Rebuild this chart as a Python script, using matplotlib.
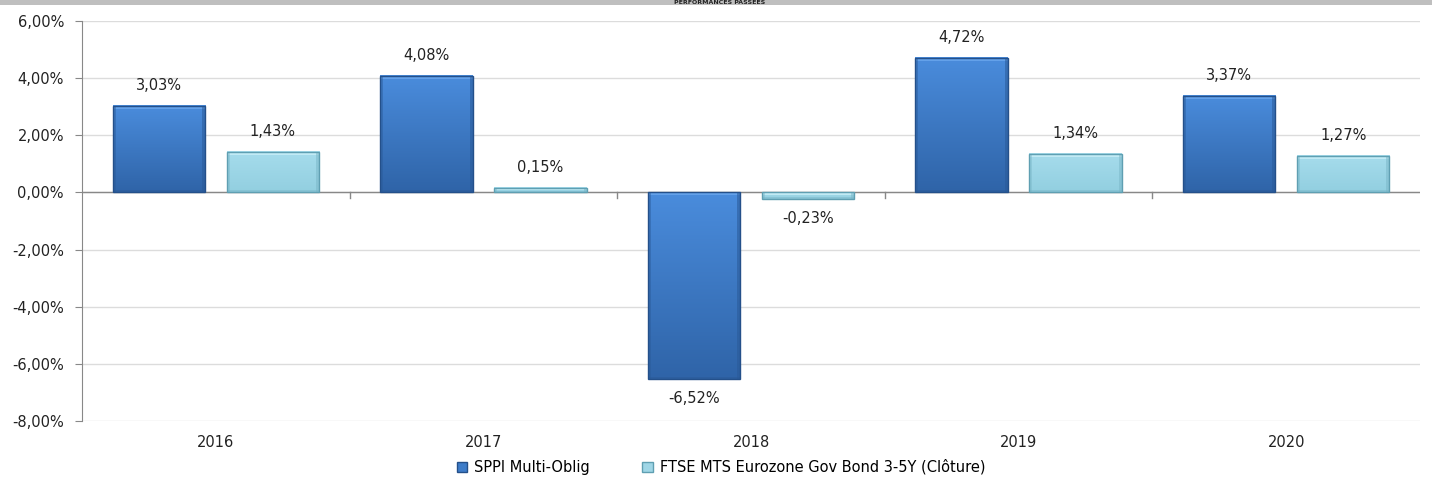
import matplotlib
matplotlib.use("Agg")
import matplotlib.pyplot as plt
import numpy as np
from matplotlib.patches import Rectangle
from matplotlib.colors import LinearSegmentedColormap

years = ["2016", "2017", "2018", "2019", "2020"]
sppi = [3.03, 4.08, -6.52, 4.72, 3.37]
ftse = [1.43, 0.15, -0.23, 1.34, 1.27]
series_names = ["SPPI Multi-Oblig", "FTSE MTS Eurozone Gov Bond 3-5Y (Clôture)"]
yticks = [-8, -6, -4, -2, 0, 2, 4, 6]

def fmt(v):
    return f"{v:.2f}".replace(".", ",") + "%"

W, H = 1432, 486
plt.rcParams['font.family'] = ['DejaVu Sans']
fig = plt.figure(figsize=(W / 100, H / 100), dpi=100)

# top grey band with title
band = fig.add_axes([0, 1 - 5 / H, 1, 5 / H])
band.set_facecolor("#bfbfbf")
band.set_xticks([]); band.set_yticks([])
for s in band.spines.values():
    s.set_visible(False)
fig.text(720 / W, 1 - 0.5 / H, "PERFORMANCES PASSEES", ha="center", va="top",
         fontsize=4.5, fontweight="bold", color="#222222")

ax = fig.add_axes([82 / W, 1 - 421 / H, (1420 - 82) / W, (421 - 21) / H])

x = np.arange(len(years))
bw = 0.345
off = 0.213
PX_X = 1.0 / 267.6
PX_Y = 14.0 / 400

styles = [
    dict(top="#4a8cdc", bot="#2f64a8", edge="#24508a", hi="#6aa6ec", side="#2a5a98", legend="#3d7cc9"),
    dict(top="#a6dcec", bot="#92cfe0", edge="#5f9fb2", hi="#c8eef7", side="#7bb8c9", legend="#9fd6e6"),
]

def draw_bar(xc, v, st):
    x0 = xc - bw / 2
    yb, yt = min(0, v), max(0, v)
    grad = np.linspace(1, 0, 64).reshape(-1, 1)
    cmap = LinearSegmentedColormap.from_list("g", [st["bot"], st["top"]])
    ax.imshow(grad, extent=[x0, x0 + bw, yb, yt], aspect="auto", cmap=cmap,
              vmin=0, vmax=1, zorder=3, interpolation="bilinear")
    hh = yt - yb
    bev = min(3 * PX_Y, hh * 0.35)
    sw = 3 * PX_X
    ax.add_patch(Rectangle((x0, yt - bev), bw, bev, color=st["hi"], zorder=4, lw=0, alpha=0.85))
    ax.add_patch(Rectangle((x0, yb), sw, hh, color=st["side"], zorder=4, lw=0, alpha=0.45))
    ax.add_patch(Rectangle((x0 + bw - sw, yb), sw, hh, color=st["side"], zorder=4, lw=0, alpha=0.55))
    ax.add_patch(Rectangle((x0, yb), bw, min(2 * PX_Y, hh * 0.3), color=st["side"], zorder=4, lw=0, alpha=0.5))
    ax.add_patch(Rectangle((x0, yb), bw, hh, facecolor="none", edgecolor=st["edge"], lw=1.0, zorder=5))

for xs, vals, st in ((x - off, sppi, styles[0]), (x + off, ftse, styles[1])):
    for xi, v in zip(xs, vals):
        draw_bar(xi, v, st)
        if v >= 0:
            ax.text(xi, v + 0.45, fmt(v), ha="center", va="bottom", fontsize=10.5, color="#222222")
        else:
            ax.text(xi, v - 0.42, fmt(v), ha="center", va="top", fontsize=10.5, color="#222222")

ax.set_xlim(-0.5, 4.5)
ax.set_ylim(-8, 6)
ax.set_yticks(yticks)
ax.set_yticklabels([fmt(t) for t in yticks], fontsize=10.5, color="#222222")
ax.yaxis.grid(True, color="#dcdcdc", linewidth=1.0, zorder=0)
ax.set_axisbelow(True)
ax.tick_params(axis="y", length=5, color="#888888", pad=8)

for s in ("top", "right", "bottom"):
    ax.spines[s].set_visible(False)
ax.spines["left"].set_color("#888888")

ax.axhline(0, color="#888888", linewidth=1.0, zorder=2)
for b in np.arange(0.5, 4.5, 1.0):
    ax.plot([b, b], [0, -0.18], color="#888888", lw=1.0, zorder=2, clip_on=False)

ax.set_xticks([])
for xi, yr in zip(x, years):
    ax.text(xi, -8.75, yr, ha="center", va="center", fontsize=10.5, color="#222222")

# legend
handles = [Rectangle((0, 0), 1, 1, facecolor=styles[0]["legend"], edgecolor=styles[0]["edge"]),
           Rectangle((0, 0), 1, 1, facecolor=styles[1]["legend"], edgecolor=styles[1]["edge"])]
fig.legend(handles, series_names, loc="center", bbox_to_anchor=(721 / W, 1 - 467 / H),
           ncol=2, frameon=False, fontsize=10.5, handlelength=0.7, handleheight=0.7,
           handletextpad=0.5, columnspacing=3.6)

fig.savefig("out.png", dpi=100)
